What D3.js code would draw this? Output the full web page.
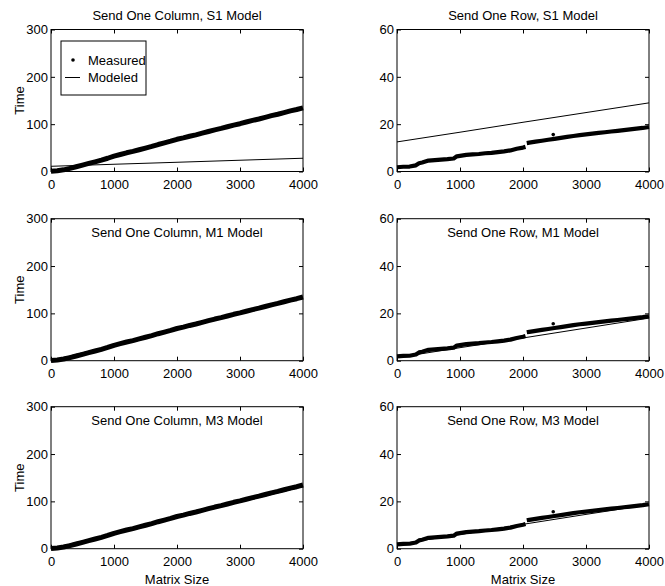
<!DOCTYPE html>
<html>
<head>
<meta charset="utf-8">
<script src="https://cdn.jsdelivr.net/npm/d3@7"></script>
<style>
  body { margin: 0; background: #fff; }
  svg { display: block; font-family: Arial, "Liberation Sans", sans-serif; }
  .tick text { font-size: 13px; fill: #000; }
  .tick line { stroke: #000; }
</style>
</head>
<body>
<div id="chart"></div>
<script>
// --- data ---
const xTicks = [0, 1000, 2000, 3000, 4000];
const colYTicks = [0, 100, 200, 300];
const rowYTicks = [0, 20, 40, 60];

// send one column: measured time
const colSizes = [0, 100, 200, 300, 400, 500, 600, 700, 800, 900, 1000,
  1100, 1200, 1300, 1400, 1500, 1600, 1700, 1800, 1900, 2000,
  2100, 2200, 2300, 2400, 2500, 2600, 2700, 2800, 2900, 3000,
  3100, 3200, 3300, 3400, 3500, 3600, 3700, 3800, 3900, 4000];
const colMeasured = [0.5, 1.5, 3.5, 6.5, 10, 13.5, 17, 20.5, 24, 28, 32.5,
  36, 39.5, 42.5, 46, 49.5, 53, 57, 60.5, 64, 68,
  71, 74.5, 77.5, 81, 84.5, 88, 91, 94.5, 98, 101,
  104.5, 108, 111, 114.5, 118, 121, 124.5, 128, 131, 134.5];

// send one row: measured time (null = break at 2048)
const rowSizes = [0, 100, 200, 300, 350, 400, 500, 600, 700, 800, 900, 950, 1000,
  1100, 1200, 1300, 1400, 1500, 1600, 1700, 1800, 1900, 2000, 2040, 2050,
  2060, 2100, 2200, 2300, 2400, 2500, 2600, 2700, 2800, 2900, 3000,
  3100, 3200, 3300, 3400, 3500, 3600, 3700, 3800, 3900, 4000];
const rowMeasured = [1.8, 2.0, 2.1, 2.6, 3.5, 3.8, 4.6, 4.8, 5.0, 5.2, 5.5, 6.4, 6.6,
  7.0, 7.2, 7.4, 7.7, 7.9, 8.2, 8.5, 8.9, 9.6, 10.1, 10.4, null,
  12.0, 12.2, 12.6, 13.0, 13.4, 13.8, 14.2, 14.6, 15.0, 15.4, 15.7,
  16.0, 16.3, 16.6, 16.9, 17.2, 17.5, 17.8, 18.1, 18.4, 18.8];
const rowOutlier = [2480, 15.6];

// modeled times
const modelSizes = [0, 1000, 2000, 3000, 4000];
const colModelS1 = [11, 15.3, 19.5, 23.8, 28];
const colModelM1 = [0, 33.5, 67, 100.5, 134];
const colModelM3 = [0, 32.8, 65.5, 98.3, 131];
const rowModelS1 = [12.5, 16.6, 20.8, 24.9, 29];
const rowModelM1 = [1.3, 5.5, 9.6, 13.8, 18.0];
const rowModelM3 = [1.8, 6.0, 10.3, 14.5, 18.6];

const panels = [
  { title: 'Send One Column, S1 Model', kind: 'col', model: colModelS1, row: 0, col: 0, legend: true },
  { title: 'Send One Row, S1 Model', kind: 'row', model: rowModelS1, row: 0, col: 1 },
  { title: 'Send One Column, M1 Model', kind: 'col', model: colModelM1, row: 1, col: 0 },
  { title: 'Send One Row, M1 Model', kind: 'row', model: rowModelM1, row: 1, col: 1 },
  { title: 'Send One Column, M3 Model', kind: 'col', model: colModelM3, row: 2, col: 0 },
  { title: 'Send One Row, M3 Model', kind: 'row', model: rowModelM3, row: 2, col: 1 }
];

// --- layout ---
const W = 665, H = 586;
const colLeft = [51, 397];
const plotW = 252;
const rowTop = [29.5, 218.7, 406.7];
const plotH = 142;
const fmt = d3.format('d');

const svg = d3.select('#chart').append('svg')
  .attr('width', W).attr('height', H);
svg.append('rect').attr('width', W).attr('height', H).attr('fill', '#fff');

panels.forEach(p => {
  const g = svg.append('g')
    .attr('transform', `translate(${colLeft[p.col]},${rowTop[p.row]})`);

  const x = d3.scaleLinear().domain([0, 4000]).range([0, plotW]);
  const y = d3.scaleLinear()
    .domain(p.kind === 'col' ? [0, 300] : [0, 60])
    .range([plotH, 0]);
  const yTicks = p.kind === 'col' ? colYTicks : rowYTicks;

  // axes, ticks pointing inward on all four sides
  const ax = [
    g.append('g').attr('transform', `translate(0,${plotH})`)
      .call(d3.axisBottom(x).tickValues(xTicks).tickFormat(fmt).tickSize(-4).tickSizeOuter(0).tickPadding(8)),
    g.append('g')
      .call(d3.axisTop(x).tickValues(xTicks).tickSize(-4).tickSizeOuter(0).tickFormat('')),
    g.append('g')
      .call(d3.axisLeft(y).tickValues(yTicks).tickFormat(fmt).tickSize(-4).tickSizeOuter(0).tickPadding(3)),
    g.append('g').attr('transform', `translate(${plotW},0)`)
      .call(d3.axisRight(y).tickValues(yTicks).tickSize(-4).tickSizeOuter(0).tickFormat(''))
  ];
  ax.forEach(a => a.select('.domain').remove());

  // measured: dense dots drawn as a thick band
  const sizes = p.kind === 'col' ? colSizes : rowSizes;
  const vals = p.kind === 'col' ? colMeasured : rowMeasured;
  const pts = sizes.map((s, i) => [s, vals[i]]);
  const band = d3.line()
    .defined(d => d[1] !== null)
    .x(d => x(d[0])).y(d => y(d[1]));

  g.append('path').datum(pts)
    .attr('d', band)
    .attr('fill', 'none')
    .attr('stroke', '#000')
    .attr('stroke-width', p.kind === 'col' ? 5 : 4.2)
    .attr('stroke-linecap', 'butt')
    .attr('stroke-linejoin', 'round');

  if (p.kind === 'row') {
    g.append('circle')
      .attr('cx', x(rowOutlier[0])).attr('cy', y(rowOutlier[1]))
      .attr('r', 1.8).attr('fill', '#000');
  }

  // modeled line
  const modelPts = modelSizes.map((s, i) => [s, p.model[i]]);
  g.append('path').datum(modelPts)
    .attr('d', d3.line().x(d => x(d[0])).y(d => y(d[1])))
    .attr('fill', 'none')
    .attr('stroke', '#000')
    .attr('stroke-width', 1);

  // frame
  g.append('rect')
    .attr('width', plotW).attr('height', plotH)
    .attr('fill', 'none').attr('stroke', '#000').attr('stroke-width', 1);

  // title: above the frame on the top row, inside the frame below
  g.append('text')
    .attr('x', plotW / 2)
    .attr('y', p.row === 0 ? -10 : 18.5)
    .attr('text-anchor', 'middle')
    .style('font-size', '13px')
    .text(p.title);

  if (p.col === 0) {
    g.append('text')
      .attr('transform', `translate(-32,${plotH / 2}) rotate(-90)`)
      .attr('text-anchor', 'middle')
      .attr('dy', '0.35em')
      .style('font-size', '13px')
      .text('Time');
  }
  if (p.row === 2) {
    g.append('text')
      .attr('x', plotW / 2).attr('y', plotH + 35)
      .attr('text-anchor', 'middle')
      .style('font-size', '13px')
      .text('Matrix Size');
  }

  if (p.legend) {
    const lg = g.append('g').attr('transform', 'translate(10,11.5)');
    lg.append('rect').attr('width', 85).attr('height', 54)
      .attr('fill', '#fff').attr('stroke', '#000').attr('stroke-width', 1);
    lg.append('circle').attr('cx', 12).attr('cy', 19).attr('r', 1.8).attr('fill', '#000');
    lg.append('line').attr('x1', 4).attr('x2', 19).attr('y1', 36.5).attr('y2', 36.5)
      .attr('stroke', '#000').attr('stroke-width', 1);
    lg.append('text').attr('x', 27).attr('y', 19).attr('dy', '0.35em')
      .style('font-size', '13px').text('Measured');
    lg.append('text').attr('x', 27).attr('y', 36.5).attr('dy', '0.35em')
      .style('font-size', '13px').text('Modeled');
  }
});
</script>
</body>
</html>
